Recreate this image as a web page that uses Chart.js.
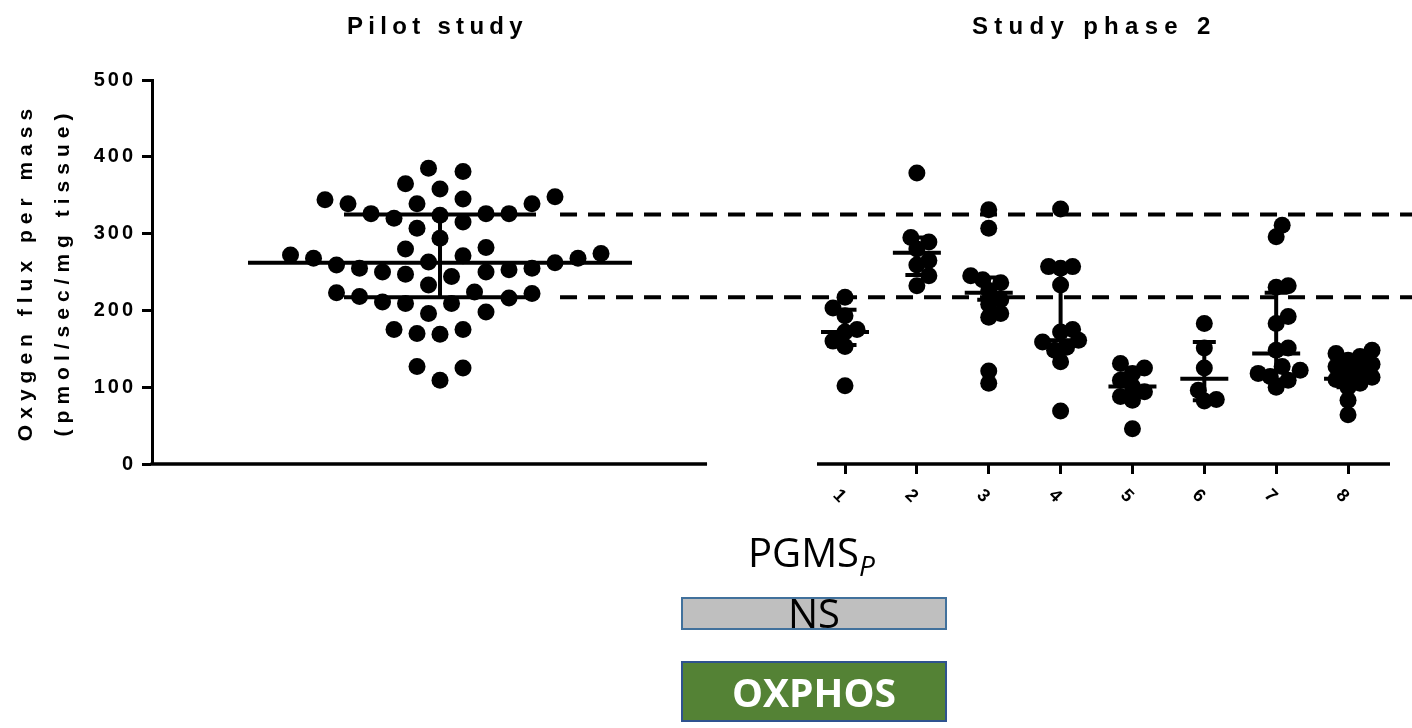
<!DOCTYPE html>
<html>
<head>
<meta charset="utf-8">
<script src="https://cdn.jsdelivr.net/npm/chart.js@4.4.1/dist/chart.umd.min.js"></script>
<style>
  body { margin: 0; background: #fff; }
  #wrap { position: relative; width: 1412px; height: 728px; overflow: hidden; }
  #oxChart { position: absolute; left: 0; top: 0; }
  .panel-title { position: absolute; top: 14px; font: bold 24px "Liberation Sans", Arial, sans-serif; line-height: 24px; letter-spacing: 5.3px; color: #000; white-space: nowrap; }
  .pgms { position: absolute; left: 748px; top: 532px; font: 40px "Open Sans", sans-serif; line-height: 40px; color: #000; white-space: nowrap; }
  .pgms i { font-size: 28px; position: relative; top: 9px; }
  .box { position: absolute; left: 681px; width: 266px; box-sizing: border-box; border: 2px solid #41719c; }
  .box-text { position: absolute; left: 681px; width: 266px; text-align: center; font-family: "Open Sans", sans-serif; white-space: nowrap; }
</style>
</head>
<body>
<div id="wrap">
  <canvas id="oxChart" width="1412" height="540"></canvas>
  <div class="panel-title" style="left:347px">Pilot study</div>
  <div class="panel-title" style="left:972px;letter-spacing:6.3px">Study phase 2</div>
  <div class="pgms">PGMS<i>P</i></div>
  <div class="box" style="top:597px;height:33px;background:#bfbfbf"></div>
  <div class="box-text" style="top:593px;font-size:40px;line-height:40px;color:#000">NS</div>
  <div class="box" style="top:661px;height:61px;background:#548235;border-color:#2f528f"></div>
  <div class="box-text" style="top:672px;font-size:39px;line-height:39px;font-weight:bold;color:#fff">OXPHOS</div>
</div>
<script>
// values (oxygen flux, pmol/sec/mg tissue)
const pilotValues = [385, 381, 365, 358, 348, 345, 344, 339, 339, 339, 326, 326, 326, 324, 320, 315, 307,
  294, 282, 280, 274, 272, 271, 268, 268, 263, 262, 259, 255, 255, 253, 250, 250, 247, 244,
  233, 224, 223, 222, 218, 216, 211, 209, 209, 198, 196, 175, 175, 170, 169, 127, 125, 109];
const pilotMedian = 262;
const pilotQ1 = 217;
const pilotQ3 = 325;

const phase2Labels = ['1', '2', '3', '4', '5', '6', '7', '8'];
const group1 = [217, 203, 193, 175, 172, 160, 153, 102];
const group2 = [379, 295, 289, 280, 265, 259, 245, 232];
const group3 = [331, 307, 245, 240, 236, 226, 214, 208, 196, 191, 121, 105];
const group4 = [332, 257, 257, 255, 233, 175, 172, 161, 159, 152, 148, 133, 69];
const group5 = [131, 125, 118, 109, 101, 94, 88, 83, 46];
const group6 = [183, 151, 125, 96, 84, 82];
const group7 = [311, 296, 232, 230, 192, 183, 151, 148, 127, 122, 118, 114, 109, 100];
const group8 = [148, 144, 140, 135, 130, 127, 122, 118, 113, 110, 105, 100, 83, 64];
const phase2Groups = [group1, group2, group3, group4, group5, group6, group7, group8];
const phase2Median = [172, 275, 223, 161, 101, 111, 144, 111];
const phase2Q1 = [155, 246, 214, 148, 88, 83, 110, 100];
const phase2Q3 = [201, 295, 243, 253, 118, 159, 223, 130];

const yTicks = [0, 100, 200, 300, 400, 500];

// layout of the shared x axis (phase 2 groups sit at 1..8)
const X_MIN = -8.644, X_MAX = 8.584;
const PILOT_X = -4.636;
const PILOT_AXIS_END = -0.92, PHASE2_AXIS_START = 0.61;
const DASH_START = -2.966;

const FONT = '"Liberation Sans", Arial, sans-serif';

const statsPlugin = {
  id: 'stats',
  beforeDraw(chart) {
    chart.ctx.letterSpacing = '3px';
  },
  afterDatasetsDraw(chart) {
    const {ctx, chartArea, scales: {x, y}} = chart;
    ctx.save();
    ctx.strokeStyle = '#000';
    ctx.lineCap = 'butt';

    // axis baselines, broken between panels
    ctx.lineWidth = 3.5;
    ctx.beginPath();
    ctx.moveTo(x.getPixelForValue(X_MIN) - 1.5, chartArea.bottom);
    ctx.lineTo(x.getPixelForValue(PILOT_AXIS_END), chartArea.bottom);
    ctx.moveTo(x.getPixelForValue(PHASE2_AXIS_START), chartArea.bottom);
    ctx.lineTo(x.getPixelForValue(X_MAX), chartArea.bottom);
    ctx.stroke();

    // dashed reference lines = pilot quartiles
    ctx.lineWidth = 4;
    ctx.setLineDash([17, 11]);
    ctx.beginPath();
    [pilotQ3, pilotQ1].forEach(v => {
      ctx.moveTo(x.getPixelForValue(DASH_START), y.getPixelForValue(v));
      ctx.lineTo(chart.width, y.getPixelForValue(v));
    });
    ctx.stroke();
    ctx.setLineDash([]);

    const drawStat = (cx, med, q1, q3, medHalf, capHalf) => {
      const px = x.getPixelForValue(cx);
      ctx.beginPath();
      ctx.moveTo(px - medHalf, y.getPixelForValue(med));
      ctx.lineTo(px + medHalf, y.getPixelForValue(med));
      ctx.moveTo(px, y.getPixelForValue(q1));
      ctx.lineTo(px, y.getPixelForValue(q3));
      ctx.moveTo(px - capHalf, y.getPixelForValue(q1));
      ctx.lineTo(px + capHalf, y.getPixelForValue(q1));
      ctx.moveTo(px - capHalf, y.getPixelForValue(q3));
      ctx.lineTo(px + capHalf, y.getPixelForValue(q3));
      ctx.stroke();
    };
    drawStat(PILOT_X, pilotMedian, pilotQ1, pilotQ3, 192, 96);
    phase2Median.forEach((m, i) => drawStat(i + 1, m, phase2Q1[i], phase2Q3[i], 24, 11.5));
    ctx.restore();
  }
};

const chart = new Chart(document.getElementById('oxChart'), {
  type: 'scatter',
  data: {
    datasets: [
      { data: pilotValues.map(v => ({x: PILOT_X, y: v})) },
      { data: phase2Groups.flatMap((g, i) => g.map(v => ({x: i + 1, y: v}))) }
    ]
  },
  options: {
    responsive: false,
    animation: false,
    devicePixelRatio: 1,
    layout: { padding: { left: 0, right: 22, top: 80, bottom: 12 } },
    elements: { point: { radius: 8.5, hoverRadius: 8.5, backgroundColor: '#000', borderWidth: 0 } },
    plugins: { legend: { display: false }, tooltip: { enabled: false } },
    scales: {
      x: {
        type: 'linear',
        min: X_MIN,
        max: X_MAX,
        border: { display: false },
        grid: { drawOnChartArea: false, tickLength: 10, tickWidth: 3, tickColor: '#000' },
        afterBuildTicks: s => { s.ticks = phase2Labels.map((l, i) => ({value: i + 1})); },
        afterFit: s => { s.height = 64; },
        ticks: {
          minRotation: -45,
          maxRotation: -45,
          padding: 20,
          color: '#000',
          font: { family: FONT, size: 18, weight: 'bold' },
          callback: v => phase2Labels[v - 1]
        }
      },
      y: {
        min: 0,
        max: 500,
        border: { display: true, width: 3, color: '#000' },
        grid: { drawOnChartArea: false, tickLength: 10, tickWidth: 3, tickColor: '#000' },
        afterBuildTicks: s => { s.ticks = yTicks.map(v => ({value: v})); },
        afterFit: s => { s.width = 152; },
        ticks: {
          padding: 6,
          color: '#000',
          font: { family: FONT, size: 20, weight: 'bold' }
        },
        title: {
          display: true,
          text: ['Oxygen flux per mass', '(pmol/sec/mg tissue)'],
          color: '#000',
          padding: { top: 8, bottom: 0 },
          font: { family: FONT, size: 21, weight: 'bold', lineHeight: '37px' }
        }
      }
    }
  },
  plugins: [statsPlugin]
});

// wider letter spacing for the y axis title
const yScale = chart.scales.y;
const baseDrawTitle = yScale.drawTitle.bind(yScale);
yScale.drawTitle = function () {
  const c = this.ctx;
  c.letterSpacing = '6px';
  baseDrawTitle();
  c.letterSpacing = '3px';
};

// beeswarm spread of the dots around each column centre
function swarm(values, centre, minDist, step) {
  const xs = chart.scales.x, ys = chart.scales.y;
  const cx = xs.getPixelForValue(centre);
  const placed = [];
  const out = [];
  const order = values.map((v, i) => i).sort((a, b) => values[a] - values[b]);
  order.forEach((i, n) => {
    const py = ys.getPixelForValue(values[i]);
    const sign = n % 2 ? 1 : -1;
    let off = 0;
    for (let k = 0; k < 400; k++) {
      const m = Math.ceil(k / 2) * step;
      const cand = k === 0 ? 0 : (k % 2 ? sign * m : -sign * m);
      const free = placed.every(p => (p.x - (cx + cand)) ** 2 + (p.y - py) ** 2 >= minDist * minDist);
      if (free) { off = cand; break; }
    }
    placed.push({x: cx + off, y: py});
    out.push({x: xs.getValueForPixel(cx + off), y: values[i]});
  });
  return out;
}

chart.data.datasets[0].data = swarm(pilotValues, PILOT_X, 23, 11.5);
chart.data.datasets[1].data = phase2Groups.flatMap((g, i) => swarm(g, i + 1, 12, 6));
chart.update('none');
</script>
</body>
</html>
